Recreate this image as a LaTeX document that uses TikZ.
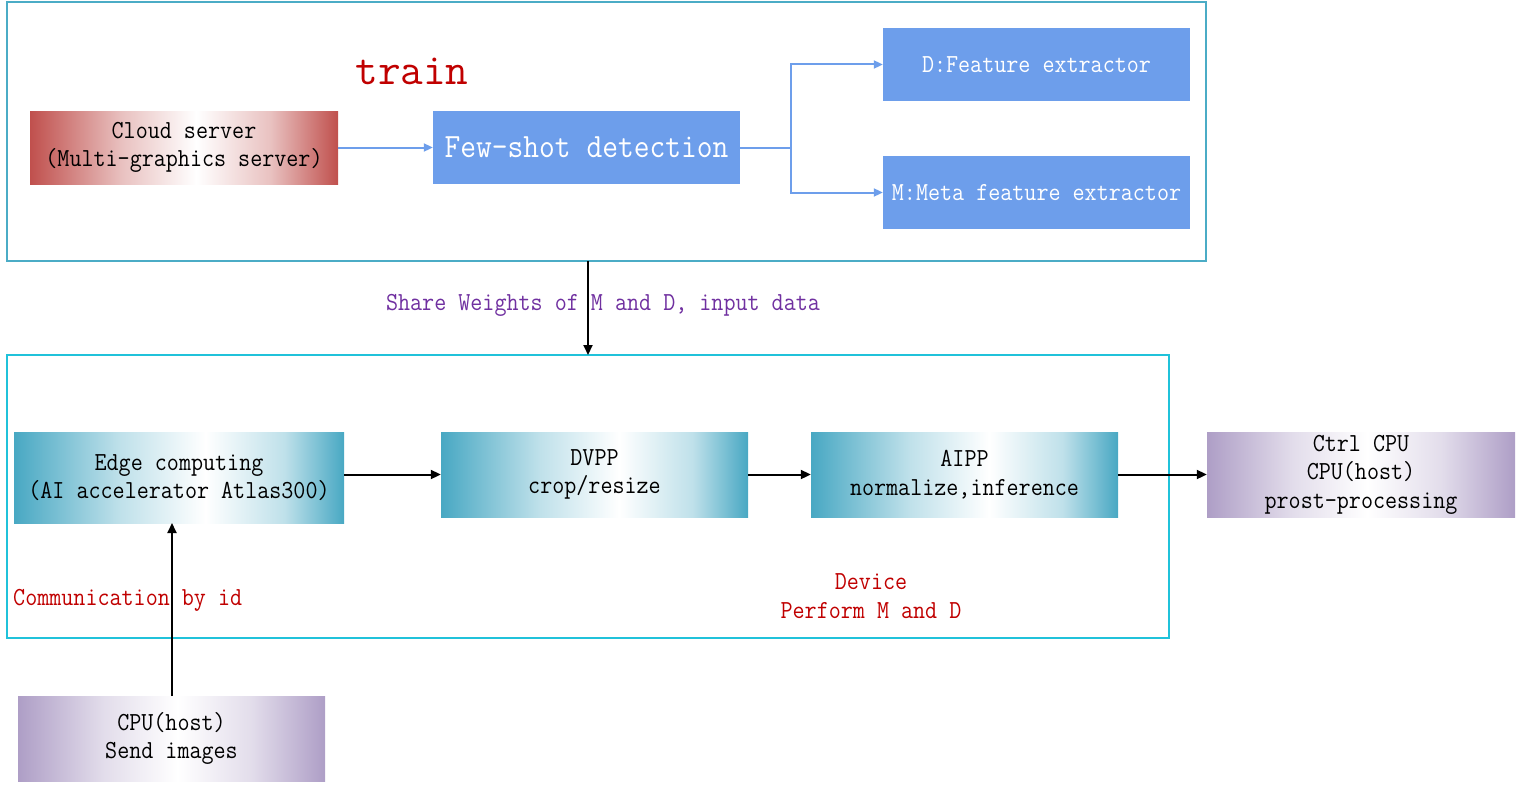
\documentclass[tikz,border=0pt]{standalone}
\usepackage{fontspec}
\setmainfont[FakeStretch=0.9]{Latin Modern Mono}
\newfontfamily\trainfont{Latin Modern Mono}
\usetikzlibrary{arrows.meta,positioning}
\definecolor{topframe}{RGB}{75,172,198}
\definecolor{botframe}{RGB}{32,194,218}
\definecolor{fewblue}{RGB}{109,158,235}
\definecolor{redE}{RGB}{192,80,77}
\definecolor{tealE}{RGB}{72,168,195}
\definecolor{purpE}{RGB}{174,158,198}
\definecolor{txtred}{RGB}{192,0,0}
\definecolor{txtpurple}{RGB}{112,48,160}
\colorlet{redM}{redE!35!white}
\colorlet{tealM}{tealE!35!white}
\colorlet{purpM}{purpE!35!white}
\pgfdeclarehorizontalshading{redsh}{100bp}{color(0bp)=(redE); color(25bp)=(redE); color(40bp)=(redM); color(52bp)=(white); color(64bp)=(redM); color(75bp)=(redE); color(100bp)=(redE)}
\pgfdeclarehorizontalshading{tealsh}{100bp}{color(0bp)=(tealE); color(25bp)=(tealE); color(41bp)=(tealM); color(54bp)=(white); color(66bp)=(tealM); color(75bp)=(tealE); color(100bp)=(tealE)}
\pgfdeclarehorizontalshading{purpsh}{100bp}{color(0bp)=(purpE); color(25bp)=(purpE); color(39bp)=(purpM); color(51bp)=(white); color(63bp)=(purpM); color(75bp)=(purpE); color(100bp)=(purpE)}
\tikzset{
  box/.style={inner sep=0pt, align=center, font=\fontsize{26}{28.5}\selectfont},
  bluebox/.style={box, fill=fewblue, text=white},
  redbox/.style={box, shading=redsh},
  tealbox/.style={box, shading=tealsh},
  purpbox/.style={box, shading=purpsh},
  frame/.style={line width=2pt},
  arr/.style={-{Triangle[length=10pt,width=9pt]}, line width=2pt, black},
  barr/.style={-{Triangle[length=9pt,width=8pt]}, line width=2pt, fewblue},
  lbl/.style={inner sep=0pt, align=center, font=\fontsize{26}{28.5}\selectfont}
}
\begin{document}
\begin{tikzpicture}[x=1pt,y=-1pt]
\useasboundingbox (0,0) rectangle (1517,784);
% frames
\draw[frame, topframe] (7,2) rectangle (1206,261);
\draw[frame, botframe] (7,355) rectangle (1169,638);
% top boxes
\node[redbox, minimum width=308pt, minimum height=73pt] (cloud) at (184,147.5) {Cloud server\\(Multi-graphics server)};
\node[bluebox, minimum width=307pt, minimum height=73pt, font=\fontsize{34}{36}\selectfont] (few) at (586.5,147.5) {Few-shot detection};
\node[bluebox, minimum width=307pt, minimum height=73pt] (dfe) at (1036.5,64.5) {D:Feature extractor};
\node[bluebox, minimum width=307pt, minimum height=73pt] (mfe) at (1036.5,192.5) {M:Meta feature extractor};
\node[inner sep=0pt, text=txtred, font=\trainfont\fontsize{44}{46}\selectfont] (train) at (412,71) {train};
% bottom boxes
\node[tealbox, minimum width=330pt, minimum height=91pt] (edge) at (179,477.5) {Edge computing\\(AI accelerator Atlas300)};
\node[tealbox, minimum width=307pt, minimum height=85pt] (dvpp) at (594.5,474.5) {DVPP\\crop/resize};
\node[tealbox, minimum width=307pt, minimum height=85pt] (aipp) at (964.5,474.5) {AIPP\\normalize,inference};
\node[purpbox, minimum width=308pt, minimum height=85pt] (ctrl) at (1361,474.5) {Ctrl CPU\\CPU(host)\\prost-processing};
\node[purpbox, minimum width=307pt, minimum height=85pt] (host) at (171.5,738.5) {CPU(host)\\Send images};
% labels
\node[lbl, text=txtpurple] (share) at (603,305) {Share Weights of M and D, input data};
\node[lbl, text=txtred, anchor=west] (comm) at (13,600) {Communication by id};
\node[lbl, text=txtred] (device) at (871,596) {Device\\Perform M and D};
% connectors
\coordinate (topbot) at (588,261);
\coordinate (botTop) at (588,355);
\coordinate (branch) at (791,147.5);
\coordinate (hostTop) at (172,696);
\coordinate (edgeBot) at (172,523);
\draw[barr] (cloud.east) -- (few.west);
\draw[line width=2pt, fewblue] (few.east) -- (branch);
\draw[barr] (branch) |- (dfe.west);
\draw[barr] (branch) |- (mfe.west);
\draw[arr] (topbot) -- (botTop);
\draw[arr] (edge.east |- dvpp.west) -- (dvpp.west);
\draw[arr] (dvpp.east) -- (aipp.west);
\draw[arr] (aipp.east) -- (ctrl.west);
\draw[arr] (hostTop) -- (edgeBot);
\end{tikzpicture}
\end{document}
